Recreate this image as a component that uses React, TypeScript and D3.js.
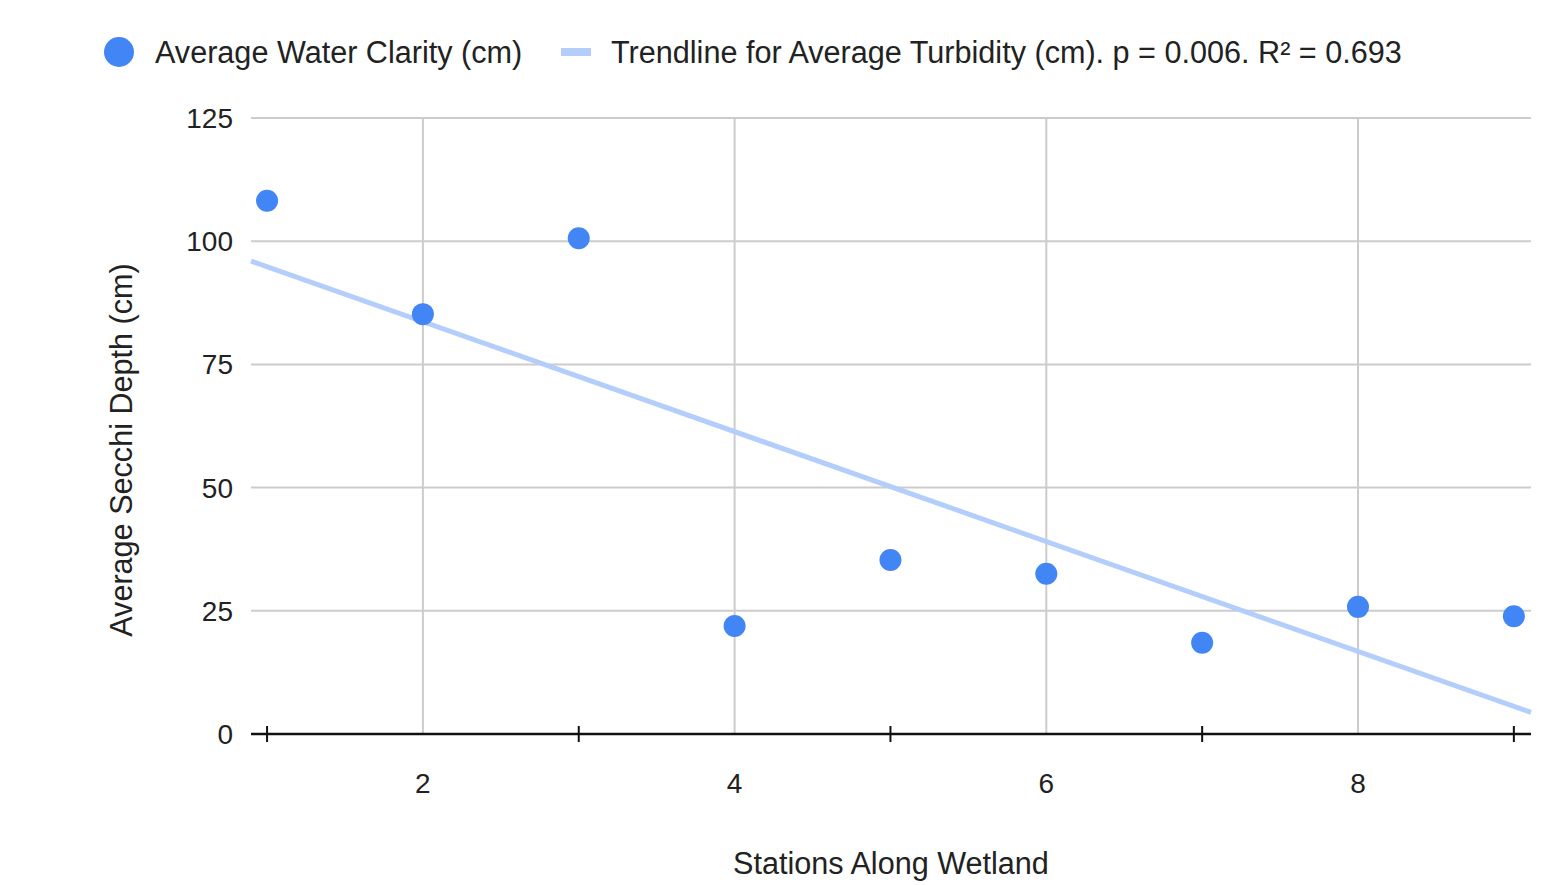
import React from "react";
import * as d3 from "d3";

const stations = [1, 2, 3, 4, 5, 6, 7, 8, 9];
const clarity = [108.2, 85.2, 100.6, 21.9, 35.3, 32.5, 18.5, 25.8, 23.9];
const yTicks = [0, 25, 50, 75, 100, 125];
const xLabelTicks = [2, 4, 6, 8];
const xMinorTicks = [1, 3, 5, 7, 9];

const seriesName = "Average Water Clarity (cm)";
const trendName = "Trendline for Average Turbidity (cm). p = 0.006. R² = 0.693";

const App = () => {
  const width = 1558,
    height = 885;
  const left = 251,
    right = 1531,
    top = 118,
    bottom = 734;

  const x = d3.scaleLinear().domain([0.897, 9.11]).range([left, right]);
  const y = d3.scaleLinear().domain([0, 125]).range([bottom, top]);

  // least squares fit
  const mx = d3.mean(stations) as number;
  const my = d3.mean(clarity) as number;
  let sxy = 0,
    sxx = 0;
  stations.forEach((s, i) => {
    sxy += (s - mx) * (clarity[i] - my);
    sxx += (s - mx) * (s - mx);
  });
  const slope = sxy / sxx;
  const icpt = my - slope * mx;
  const [d0, d1] = x.domain();
  const trend = d3
    .line<number>()
    .x((d) => x(d))
    .y((d) => y(icpt + slope * d))([d0, d1]);

  const font = "Liberation Sans, Arial, sans-serif";
  const blue = "#4285f4";
  const light = "#b3cefb";
  const big = 30.6;

  return (
    <svg
      width={width}
      height={height}
      style={{ position: "absolute", left: 0, top: 0, background: "#fff" }}
      fontFamily={font}
    >
      {/* legend */}
      <circle cx={119} cy={52} r={15} fill={blue} />
      <text x={155} y={63} fontSize={big} fill="#222">
        {seriesName}
      </text>
      <rect x={561} y={48} width={30} height={8} fill={light} />
      <text x={611} y={63} fontSize={big} fill="#222">
        {trendName}
      </text>

      {/* grid */}
      {yTicks
        .filter((t) => t > 0)
        .map((t) => (
          <line key={"h" + t} x1={left} x2={right} y1={y(t)} y2={y(t)} stroke="#cccccc" strokeWidth={2} />
        ))}
      {xLabelTicks.map((t) => (
        <line key={"v" + t} x1={x(t)} x2={x(t)} y1={top} y2={bottom} stroke="#cccccc" strokeWidth={2} />
      ))}

      {/* y labels */}
      {yTicks.map((t) => (
        <text key={"yl" + t} x={233} y={y(t) + 10} textAnchor="end" fontSize={28} fill="#222">
          {t}
        </text>
      ))}

      {/* trendline */}
      <path d={trend ?? ""} fill="none" stroke={light} strokeWidth={5} />

      {/* x axis */}
      <line x1={left} x2={right} y1={bottom} y2={bottom} stroke="#111" strokeWidth={2.5} />
      {xMinorTicks.map((t) => (
        <line key={"t" + t} x1={x(t)} x2={x(t)} y1={bottom - 8} y2={bottom + 8} stroke="#111" strokeWidth={2} />
      ))}
      {xLabelTicks.map((t) => (
        <text key={"xl" + t} x={x(t)} y={793} textAnchor="middle" fontSize={28} fill="#222">
          {t}
        </text>
      ))}

      {/* points */}
      {stations.map((s, i) => (
        <circle key={"p" + s} cx={x(s)} cy={y(clarity[i])} r={11} fill={blue} />
      ))}

      {/* axis titles */}
      <text x={(left + right) / 2} y={874} textAnchor="middle" fontSize={big} fill="#222">
        Stations Along Wetland
      </text>
      <text
        transform={`translate(132,450) rotate(-90)`}
        textAnchor="middle"
        fontSize={big}
        fill="#222"
      >
        Average Secchi Depth (cm)
      </text>
    </svg>
  );
};

export default App;
